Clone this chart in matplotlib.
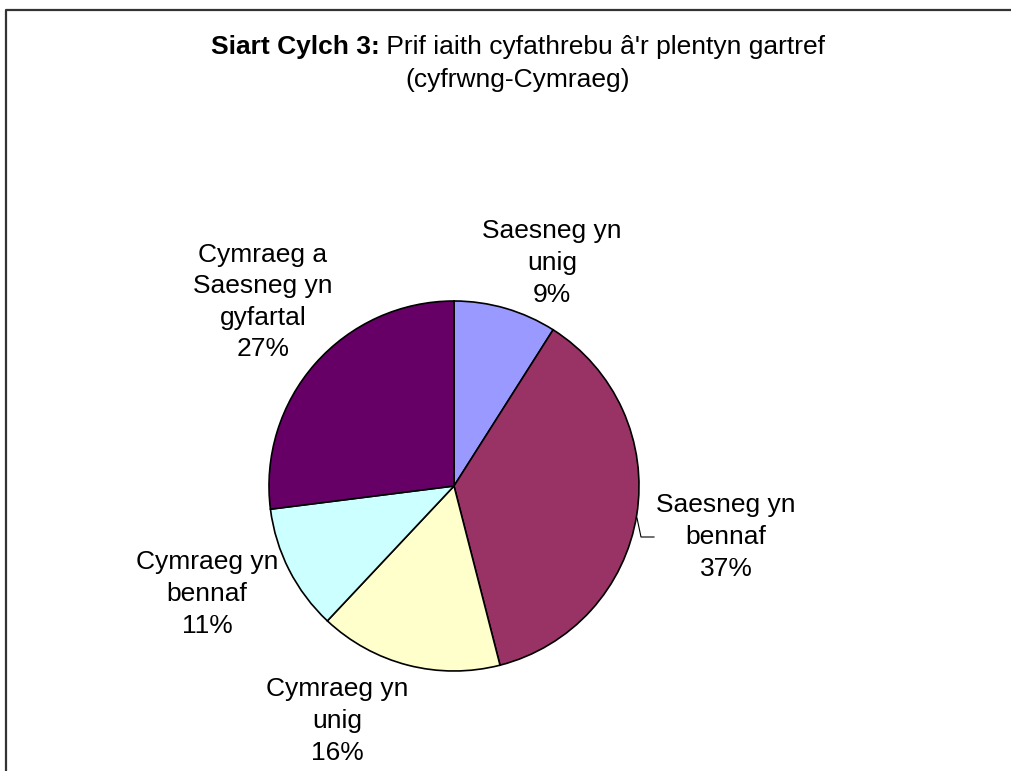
import matplotlib.pyplot as plt
from matplotlib.lines import Line2D

plt.rcParams['font.family'] = ['Liberation Sans', 'DejaVu Sans']

labels = ['Saesneg yn\nunig', 'Saesneg yn\nbennaf', 'Cymraeg yn\nunig',
          'Cymraeg yn\nbennaf', 'Cymraeg a\nSaesneg yn\ngyfartal']
values = [9, 37, 16, 11, 27]
colors = ['#9999FF', '#993366', '#FFFFCC', '#CCFFFF', '#660066']

# label anchor points in pixels (x, y from top)
label_pos = [(552, 263), (726, 537), (337, 721), (207, 594), (263, 302)]

W, H = 1011, 771
fig = plt.figure(figsize=(W / 100, H / 100), dpi=100)
ax = fig.add_axes([0, 0, 1, 1])

cx, cy, r = 454, H - 486, 185
ax.pie(values, colors=colors, startangle=90, counterclock=False,
       center=(cx, cy), radius=r,
       wedgeprops=dict(edgecolor='black', linewidth=1.2), frame=True)
ax.axis('off')
ax.set_xlim(0, W)
ax.set_ylim(0, H)
ax.set_aspect('equal')

for lab, v, (x, y) in zip(labels, values, label_pos):
    ax.text(x, H - y, '{}\n{}%'.format(lab, v), ha='center', va='center',
            fontsize=19, linespacing=1.4, color='black')

# leader line for the large slice
ax.plot([637, 641, 654], [H - 518, H - 537, H - 537], color='black', lw=0.8)

# title: bold part + regular part, centred as a whole
title_x = 518
bold = 'Siart Cylch 3:'
rest = ' Prif iaith cyfathrebu â\'r plentyn gartref'
t1 = fig.text(0, 0, bold, fontsize=19, fontweight='bold')
t2 = fig.text(0, 0, rest, fontsize=19)
fig.canvas.draw()
rend = fig.canvas.get_renderer()
w1 = t1.get_window_extent(rend).width
w2 = t2.get_window_extent(rend).width
x0 = title_x - (w1 + w2) / 2
t1.set_position((x0 / W, 1 - 47 / H))
t1.set_va('center')
t2.set_position(((x0 + w1) / W, 1 - 47 / H))
t2.set_va('center')
fig.text(title_x / W, 1 - 80 / H, '(cyfrwng-Cymraeg)', fontsize=19,
         ha='center', va='center')

# chart border
fig.add_artist(Line2D([6 / W, 6 / W, 1.0], [0, 1 - 10 / H, 1 - 10 / H],
                      color='#333333', lw=1.6))

fig.savefig('out.png', dpi=100)
